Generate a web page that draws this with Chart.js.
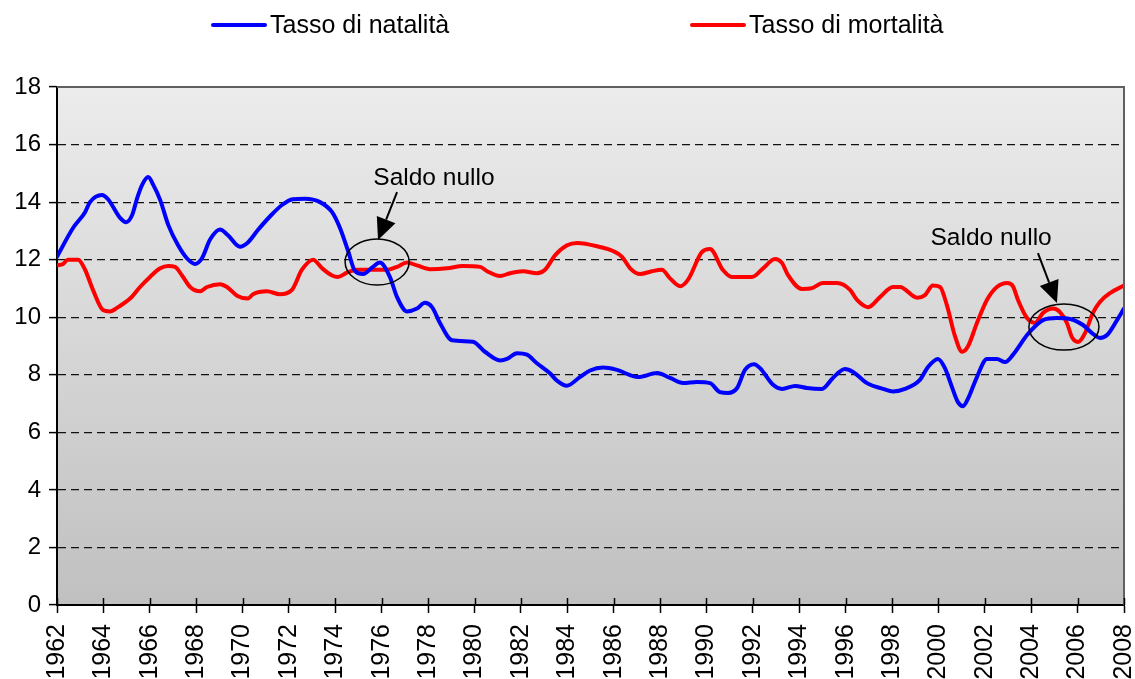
<!DOCTYPE html>
<html>
<head>
<meta charset="utf-8">
<script src="https://cdn.jsdelivr.net/npm/chart.js@4/dist/chart.umd.min.js"></script>
<style>
html,body{margin:0;padding:0;background:#fff;overflow:hidden}
#wrap{width:1135px;height:679px;position:relative}
</style>
</head>
<body>
<div id="wrap"><canvas id="c" width="1135" height="679"></canvas></div>
<script>
// ---- data ----
const seriesLabels = ['Tasso di natalità', 'Tasso di mortalità'];

const birthYears = [1962.0,1962.69,1963.21,1963.42,1963.94,1964.2,1964.72,1964.98,1965.24,1965.46,1965.67,1965.93,1966.15,1966.45,1966.8,1967.22,1967.6,1967.95,1968.25,1968.6,1969.03,1969.37,1969.89,1970.23,1970.66,1971.18,1971.7,1972.17,1972.69,1973.34,1973.86,1974.2,1974.55,1974.85,1975.2,1975.62,1975.92,1976.35,1976.66,1977.09,1977.52,1977.86,1978.17,1978.51,1979.03,1979.93,1980.45,1981.1,1981.4,1981.83,1982.26,1982.69,1983.25,1983.55,1983.98,1984.54,1984.98,1985.54,1986.14,1987.05,1987.87,1988.43,1988.99,1989.59,1990.15,1990.58,1990.93,1991.32,1991.66,1992.05,1992.31,1992.87,1993.26,1993.82,1994.33,1994.98,1995.45,1995.97,1996.32,1996.92,1997.61,1998.04,1998.56,1999.2,1999.55,1999.98,2000.28,2000.58,2000.84,2001.06,2001.27,2001.66,2002.09,2002.52,2002.87,2003.21,2003.82,2004.25,2004.51,2005.11,2005.67,2006.23,2006.62,2006.96,2007.27,2007.7,2008.0];
const birthRates = [12.1,13.1,13.65,14.0,14.25,14.1,13.45,13.3,13.55,14.15,14.6,14.87,14.6,14.07,13.2,12.5,12.05,11.85,12.05,12.7,13.05,12.85,12.45,12.6,13.03,13.5,13.9,14.1,14.12,14.0,13.65,13.1,12.3,11.6,11.5,11.75,11.9,11.4,10.7,10.2,10.3,10.5,10.35,9.8,9.2,9.15,8.8,8.5,8.55,8.75,8.7,8.4,8.05,7.8,7.62,7.92,8.15,8.25,8.17,7.92,8.06,7.89,7.71,7.75,7.71,7.4,7.37,7.54,8.17,8.37,8.23,7.65,7.51,7.61,7.54,7.51,7.89,8.2,8.1,7.71,7.51,7.42,7.51,7.82,8.27,8.55,8.23,7.58,7.05,6.91,7.16,7.92,8.55,8.55,8.44,8.69,9.38,9.75,9.9,9.97,9.94,9.73,9.45,9.28,9.38,9.9,10.3];

const deathYears = [1962.0,1962.26,1962.47,1962.91,1963.21,1963.55,1963.98,1964.28,1964.63,1965.15,1965.58,1966.01,1966.45,1966.79,1967.09,1967.39,1967.74,1968.17,1968.47,1969.03,1969.33,1969.76,1970.23,1970.45,1971.05,1971.61,1972.13,1972.56,1973.04,1973.43,1973.86,1974.11,1974.5,1974.94,1975.62,1976.23,1976.66,1977.09,1977.52,1978.08,1978.81,1979.5,1980.24,1980.54,1981.1,1981.53,1982.09,1982.69,1983.04,1983.47,1983.99,1984.42,1985.41,1985.97,1986.36,1986.71,1987.14,1987.65,1988.08,1988.43,1988.86,1989.2,1989.81,1990.15,1990.71,1991.1,1991.96,1992.44,1992.95,1993.26,1993.51,1994.12,1994.55,1995.02,1995.63,1996.19,1996.49,1996.97,1997.48,1998.04,1998.34,1999.08,1999.42,1999.76,2000.07,2000.37,2000.71,2001.02,2001.27,2001.66,2002.09,2002.52,2002.96,2003.21,2003.43,2003.82,2004.16,2004.51,2004.94,2005.24,2005.54,2005.76,2006.02,2006.32,2006.66,2006.96,2007.4,2008.0];
const deathRates = [11.8,11.85,12.0,12.0,11.65,10.95,10.25,10.2,10.35,10.65,11.05,11.4,11.7,11.78,11.75,11.45,11.05,10.9,11.05,11.15,11.05,10.75,10.65,10.8,10.9,10.8,10.95,11.65,12.0,11.7,11.45,11.4,11.55,11.65,11.65,11.65,11.75,11.9,11.8,11.67,11.7,11.78,11.75,11.6,11.43,11.53,11.6,11.53,11.65,12.15,12.5,12.58,12.44,12.3,12.1,11.7,11.5,11.6,11.65,11.35,11.08,11.3,12.27,12.37,11.64,11.4,11.4,11.7,12.02,11.88,11.47,10.98,11.01,11.19,11.19,10.95,10.6,10.35,10.7,11.05,11.05,10.68,10.77,11.1,11.05,10.4,9.35,8.8,8.98,9.8,10.6,11.05,11.19,11.08,10.6,9.97,9.8,10.15,10.3,10.18,9.8,9.3,9.14,9.45,10.15,10.53,10.84,11.1];

const xTickMin = 1962, xTickMax = 2008, xTickStep = 2;
const yTickMin = 0, yTickMax = 18, yTickStep = 2;

// annotation anchors in data coordinates: [year, value]
const noteText = 'Saldo nullo';
const noteTextPos = [[1978.25, 14.84], [2002.27, 12.75]];
const noteArrowFrom = [[1976.66, 14.35], [2004.29, 12.23]];
const noteArrowTo = [[1975.84, 12.68], [2005.11, 10.49]];
const noteEllipse = [[1975.8, 11.92, 1.38, 0.8], [2005.41, 9.66, 1.51, 0.8]]; // cx, cy, rx(years), ry(units)

// ---- styling ----
const FONT = '"Liberation Sans", Arial, Helvetica, sans-serif';
const colors = ['#0000FF', '#FF0000'];

const bgPlugin = {
  id: 'bg',
  beforeDraw(chart) {
    const {ctx, chartArea: a} = chart;
    ctx.save();
    ctx.fillStyle = '#fff';
    ctx.fillRect(0, 0, chart.width, chart.height);
    const g = ctx.createLinearGradient(0, a.top, 0, a.bottom);
    g.addColorStop(0, '#ececec');
    g.addColorStop(1, '#c0c0c0');
    ctx.fillStyle = g;
    ctx.fillRect(a.left, a.top, a.right - a.left, a.bottom - a.top);
    ctx.restore();
  }
};

const overlayPlugin = {
  id: 'overlay',
  afterDraw(chart) {
    const {ctx, chartArea: a, scales: {x, y}} = chart;
    ctx.save();
    // plot-area border (top + right)
    ctx.strokeStyle = '#606060';
    ctx.lineWidth = 2;
    ctx.beginPath();
    ctx.moveTo(a.left, a.top); ctx.lineTo(a.right, a.top); ctx.lineTo(a.right, a.bottom);
    ctx.stroke();
    // inner part of crossing x tick marks
    ctx.strokeStyle = '#000';
    ctx.lineWidth = 1.5;
    x.ticks.forEach(t => {
      const px = Math.round(x.getPixelForValue(t.value)) + 0.5;
      ctx.beginPath(); ctx.moveTo(px, a.bottom - 7); ctx.lineTo(px, a.bottom); ctx.stroke();
    });
    // annotations
    ctx.fillStyle = '#000';
    ctx.font = '24.5px ' + FONT;
    ctx.textAlign = 'center';
    ctx.textBaseline = 'middle';
    for (let i = 0; i < noteTextPos.length; i++) {
      ctx.fillText(noteText, x.getPixelForValue(noteTextPos[i][0]), y.getPixelForValue(noteTextPos[i][1]));
      const e = noteEllipse[i];
      const cx = x.getPixelForValue(e[0]), cy = y.getPixelForValue(e[1]);
      const rx = Math.abs(x.getPixelForValue(e[0] + e[2]) - cx);
      const ry = Math.abs(y.getPixelForValue(e[1] + e[3]) - cy);
      ctx.strokeStyle = '#000';
      ctx.lineWidth = 1.5;
      ctx.beginPath(); ctx.ellipse(cx, cy, rx, ry, 0, 0, Math.PI * 2); ctx.stroke();
      const x1 = x.getPixelForValue(noteArrowFrom[i][0]), y1 = y.getPixelForValue(noteArrowFrom[i][1]);
      const x2 = x.getPixelForValue(noteArrowTo[i][0]), y2 = y.getPixelForValue(noteArrowTo[i][1]);
      const ang = Math.atan2(y2 - y1, x2 - x1);
      const hl = 22, hw = 10;
      const bx = x2 - hl * Math.cos(ang), by = y2 - hl * Math.sin(ang);
      ctx.lineWidth = 2;
      ctx.beginPath(); ctx.moveTo(x1, y1); ctx.lineTo(bx, by); ctx.stroke();
      ctx.beginPath();
      ctx.moveTo(x2, y2);
      ctx.lineTo(bx + hw * Math.sin(ang), by - hw * Math.cos(ang));
      ctx.lineTo(bx - hw * Math.sin(ang), by + hw * Math.cos(ang));
      ctx.closePath(); ctx.fill();
    }
    // legend
    const legendX = [211, 690];
    const legendY = 25;
    ctx.textAlign = 'left';
    ctx.font = '25px ' + FONT;
    chart.data.datasets.forEach((ds, i) => {
      ctx.strokeStyle = ds.borderColor;
      ctx.lineWidth = 4;
      ctx.lineCap = 'round';
      ctx.beginPath(); ctx.moveTo(legendX[i] + 2, legendY); ctx.lineTo(legendX[i] + 54, legendY); ctx.stroke();
      ctx.fillStyle = '#000';
      ctx.fillText(ds.label, legendX[i] + 59, legendY + 1);
    });
    ctx.restore();
  }
};

const ctx = document.getElementById('c').getContext('2d');
new Chart(ctx, {
  type: 'line',
  data: {
    datasets: [
      {
        label: seriesLabels[0],
        data: birthYears.map((yr, i) => ({x: yr, y: birthRates[i]})),
        borderColor: colors[0], backgroundColor: colors[0],
        borderWidth: 4, pointRadius: 0, fill: false,
        cubicInterpolationMode: 'monotone', borderJoinStyle: 'round', borderCapStyle: 'round'
      },
      {
        label: seriesLabels[1],
        data: deathYears.map((yr, i) => ({x: yr, y: deathRates[i]})),
        borderColor: colors[1], backgroundColor: colors[1],
        borderWidth: 4, pointRadius: 0, fill: false,
        cubicInterpolationMode: 'monotone', borderJoinStyle: 'round', borderCapStyle: 'round'
      }
    ]
  },
  options: {
    responsive: false,
    animation: false,
    devicePixelRatio: 1,
    layout: {padding: {top: 87, right: 11, bottom: 0, left: 0}},
    plugins: {legend: {display: false}, tooltip: {enabled: false}},
    scales: {
      x: {
        type: 'linear',
        min: xTickMin, max: xTickMax,
        afterFit(s) { s.height = 74; s.paddingLeft = 0; s.paddingRight = 0; },
        ticks: {
          stepSize: xTickStep, autoSkip: false, minRotation: 90, maxRotation: 90,
          padding: 11, color: '#000', font: {family: FONT, size: 25},
          callback: v => String(v)
        },
        grid: {drawOnChartArea: false, drawTicks: true, tickLength: 8, tickColor: '#000', tickWidth: 1.5},
        border: {display: true, color: '#000', width: 2}
      },
      y: {
        type: 'linear',
        min: yTickMin, max: yTickMax,
        afterFit(s) { s.width = 57; },
        ticks: {stepSize: yTickStep, padding: 8, color: '#000', font: {family: FONT, size: 24}},
        grid: {drawOnChartArea: true, color: '#111', lineWidth: 1.2, tickLength: 8, tickColor: '#000', tickWidth: 1.5, tickBorderDash: []},
        border: {display: true, color: '#000', width: 2, dash: [8, 5]}
      }
    }
  },
  plugins: [bgPlugin, overlayPlugin]
});
</script>
</body>
</html>
